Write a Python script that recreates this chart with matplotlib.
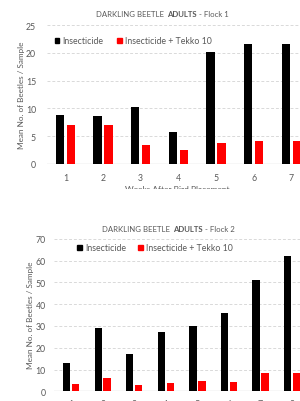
import numpy as np
import matplotlib
matplotlib.use('Agg')
from matplotlib import pyplot as plt
from matplotlib.patches import Patch, Rectangle
from matplotlib.offsetbox import TextArea, HPacker, AnchoredOffsetbox

# data
weeks1 = ['1', '2', '3', '4', '5', '6', '7']
insect1 = [8.8, 8.6, 10.3, 5.8, 20.2, 21.5, 21.5]
tekko1 = [7.0, 7.0, 3.5, 2.6, 3.7, 4.2, 4.2]

weeks2 = ['1', '2', '3', '4', '5', '6', '7', '8']
insect2 = [12.8, 28.9, 17.0, 27.2, 30.1, 36.1, 51.1, 62.1]
tekko2 = [3.4, 6.1, 3.1, 3.8, 4.7, 4.4, 8.6, 8.3]

GRAY = '#595959'
GRID = '#d9d9d9'
plt.rcParams['font.family'] = ['Lato', 'DejaVu Sans']

W, H = 300, 402
fig = plt.figure(figsize=(W / 100, H / 100), dpi=100)


def px(x, y):
  # pixel coords (from top-left) to figure coords
  return x / W, 1 - y / H


def make_chart(rect, cats, a, b, ymax, ystep, xlim, width, off, tpad, xpad):
  ax = fig.add_axes(rect)
  x = np.arange(len(cats))
  ax.bar(x - off, a, width, color='black', zorder=3)
  ax.bar(x + off, b, width, color='#ff0000', zorder=3)
  ax.set_xlim(*xlim)
  ax.set_ylim(0, ymax)
  ax.set_yticks(np.arange(0, ymax + 1, ystep))
  ax.set_xticks(x)
  ax.set_xticklabels(cats)
  for s in ax.spines.values():
    s.set_visible(False)
  ax.yaxis.grid(True, color=GRID, linestyle=(0, (3, 2)), linewidth=0.7, zorder=0)
  ax.axhline(0, color=GRID, linewidth=1.0, zorder=2)
  ax.tick_params(axis='both', length=0, labelsize=6.3, colors=GRAY)
  ax.tick_params(axis='y', pad=tpad)
  ax.tick_params(axis='x', pad=xpad)
  ax.set_axisbelow(True)
  return ax


def title(flock, xc, yc):
  parts = [TextArea('DARKLING BEETLE', textprops=dict(color=GRAY, size=5.6)),
           TextArea('ADULTS', textprops=dict(color=GRAY, size=5.6, weight='bold')),
           TextArea('- Flock ' + flock, textprops=dict(color=GRAY, size=5.6))]
  box = HPacker(children=parts, align='baseline', pad=0, sep=1.8)
  fx, fy = px(xc, yc)
  anch = AnchoredOffsetbox(loc='center', child=box, pad=0, borderpad=0, frameon=False,
                           bbox_to_anchor=(fx, fy), bbox_transform=fig.transFigure)
  fig.add_artist(anch)


def legend(ax, xl, yc, colsp):
  handles = [Patch(color='black', label='Insecticide'),
             Patch(color='#ff0000', label='Insecticide + Tekko 10')]
  fx, fy = px(xl, yc)
  ax.legend(handles=handles, loc='center left', bbox_to_anchor=(fx, fy),
            bbox_transform=fig.transFigure, ncol=2, frameon=False, fontsize=6.3,
            labelcolor=GRAY, handlelength=0.55, handleheight=0.55,
            handletextpad=0.35, columnspacing=colsp, borderpad=0, borderaxespad=0)


# chart 1
ax1 = make_chart([46.5 / W, (H - 165) / H, 7 * 37.67 / W, 139 / H], weeks1, insect1, tekko1,
                 25, 5, (-0.5, 6.5), 0.22, 0.146, 7.5, 6.5)
title('1', 162.5, 14.5)
legend(ax1, 54.5, 42, 1.6)
fx, fy = px(22, 95.5)
fig.text(fx, fy, 'Mean No. of Beetles / Sample', rotation=90, ha='center', va='center',
         color=GRAY, size=5.9)
fx, fy = px(177.5, 190)
fig.text(fx, fy, 'Weeks After Bird Placement', ha='center', va='center', color=GRAY, size=6.0)

# chart 2
ax2 = make_chart([54.3 / W, (H - 392.3) / H, 8 * 31.71 / W, 152.6 / H], weeks2, insect2, tekko2,
                 70, 10, (-0.53, 7.5), 0.23, 0.142, 6.2, 5.5)
title('2', 168.5, 230)
legend(ax2, 77, 249, 1.4)
fx, fy = px(31, 315)
fig.text(fx, fy, 'Mean No. of Beetles / Sample', rotation=90, ha='center', va='center',
         color=GRAY, size=5.9)

# blank band where the first screenshot was cut off
x0, y0 = px(0, 189.5)
fig.add_artist(Rectangle((0, y0 - 26 / H), 1, 26 / H, transform=fig.transFigure,
                         facecolor='white', edgecolor='none', zorder=10))

fig.savefig('out.png', dpi=100)
